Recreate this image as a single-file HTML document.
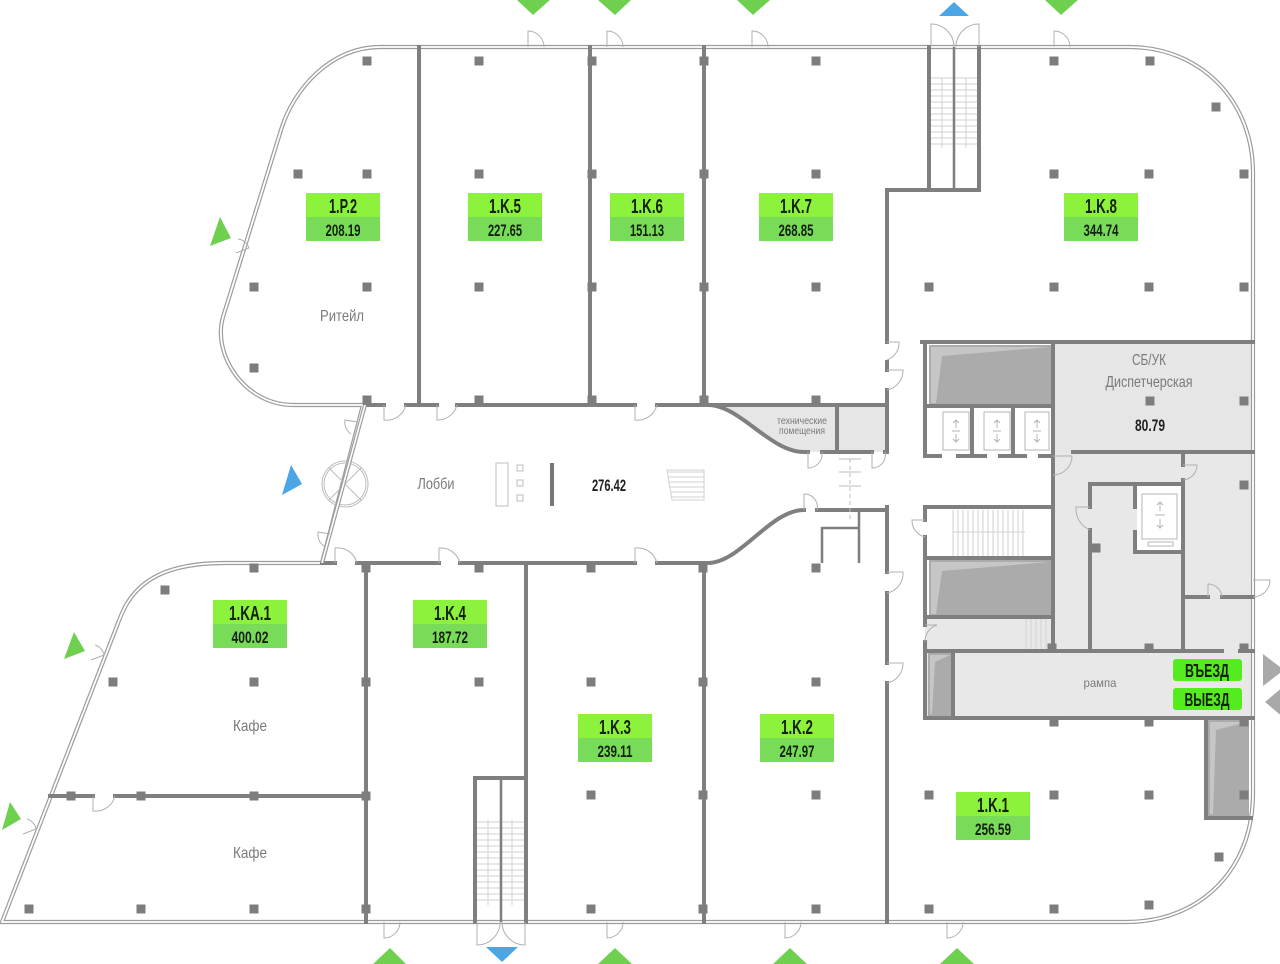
<!DOCTYPE html>
<html><head><meta charset="utf-8"><style>
html,body{margin:0;padding:0;background:#fff;}
svg{display:block;}
text{font-family:"Liberation Sans Narrow","Liberation Sans",sans-serif;}
</style></head><body>
<svg width="1280" height="964" viewBox="0 0 1280 964" xmlns="http://www.w3.org/2000/svg">
<rect width="1280" height="964" fill="#fff"/>

<!-- fills -->
<path d="M708 405 C740 405 770 452 804 452 H887 V405 Z" fill="#e6e6e6"/>
<rect x="1053" y="342" width="200" height="110" fill="#e6e6e6"/>
<rect x="1053" y="452" width="200" height="199" fill="#e8e8e8"/>
<rect x="1137" y="486" width="45" height="64" fill="#fff"/>
<rect x="925" y="617" width="128" height="34" fill="#e8e8e8"/>
<rect x="925" y="651" width="328" height="67" fill="#e8e8e8"/>
<!-- shafts -->
<g>
<rect x="929" y="345" width="122" height="60" fill="#ababab"/>
<polygon points="931,347 1049,347 942,356 936,403 931,403" fill="#c6c6c6"/>
<rect x="929" y="560" width="122" height="56" fill="#ababab"/>
<polygon points="931,562 1049,562 942,571 936,614 931,614" fill="#c6c6c6"/>
<rect x="928" y="653" width="24" height="63" fill="#ababab"/>
<polygon points="930,655 950,655 935,662 932,714 930,714" fill="#c6c6c6"/>
<rect x="1208" y="720" width="41" height="96" fill="#ababab"/>
<polygon points="1210,722 1247,722 1216,730 1213,814 1210,814" fill="#c6c6c6"/>
</g>

<!-- outer envelope -->
<path d="M363 405 L293 405 C245 405 212 355 223 317 L281 130 C293 90 330 47 380 47 L1129 47 C1200 47 1253 100 1253 173 L1253 793 C1253 870 1200 922 1126 922 L2 922 L120 618 C135 578 170 563 225 563 L322 563 Z" fill="none" stroke="#9c9c9c" stroke-width="4.2"/>
<path d="M363 405 L293 405 C245 405 212 355 223 317 L281 130 C293 90 330 47 380 47 L1129 47 C1200 47 1253 100 1253 173 L1253 793 C1253 870 1200 922 1126 922 L2 922 L120 618 C135 578 170 563 225 563 L322 563 Z" fill="none" stroke="#fff" stroke-width="1.8"/>

<!-- stair treads -->
<g stroke="#d2d2d2" stroke-width="1">
<path d="M931 78H977M931 84H977M931 90H977M931 96H977M931 102H977M931 108H977M931 114H977M931 120H977M931 126H977M931 132H977M931 138H977M931 144H977M942 78V148M966 78V148"/>
<path d="M953 510V556M958 510V556M963 510V556M968 510V556M973 510V556M978 510V556M983 510V556M988 510V556M993 510V556M998 510V556M1003 510V556M1008 510V556M1013 510V556M1018 510V556M1023 510V556M953 532H1025"/>
<path d="M1026 619V650M1031 619V650M1036 619V650M1041 619V650M1046 619V650"/>
<path d="M477 822H524M477 828H524M477 834H524M477 840H524M477 846H524M477 852H524M477 858H524M477 864H524M477 870H524M477 876H524M477 882H524M477 888H524M477 894H524M477 900H524M488 820V905M512 820V905"/>
<path d="M667 472H704M668 477H704M669 482H704M670 487H704M671 492H704M672 497H704M667 470L672 500H704V470Z" fill="none"/>
</g>

<!-- walls -->
<g stroke="#7f7f7f" stroke-width="4" fill="none" stroke-linecap="square">
<path d="M419 47V405M590 47V405M704 47V405"/>
<path d="M887 190V342M887 362V370M887 390V452"/>
<path d="M887 190H979M929 47V190M979 47V190"/>
<path d="M365 405H384M406 405H437M457 405H635M657 405H708 C740 405 770 452 804 452 H808M822 452H872M885 452H887M708 405H887M837 405V452"/>
<path d="M922 342H1253M925 342V456M1053 342V650M925 406H1053M972 406V456M1013 406V456"/>
<path d="M925 456H940M958 456H985M1000 456H1025M1040 456H1053"/>
<path d="M1073 452H1253M1183 452V465M1183 480V650M1090 484H1183M1090 484V507M1090 530V650M1135 484V507M1135 532V552H1183M1183 597H1208M1222 597H1253"/>
<path d="M925 507H1053M925 507V520M925 537V625M925 642V718"/>
<path d="M925 651H1222M1240 651H1253M925 718H1253M953 651V718M1206 718V818H1251"/>
<path d="M887 507V572M887 593V663M887 683V922"/>
<path d="M322 563H335M357 563H439M460 563H635M657 563H708 C740 563 770 510 804 510M817 510H887"/>
<path d="M366 563V922M526 563V922M704 563V922"/>
<path d="M50 796H93M115 796H366"/>
<path d="M475 778V922M475 778H526"/>
</g>
<g stroke="#7f7f7f" stroke-width="2.5" fill="none">
<path d="M954 47V190M501 778V922"/>
<path d="M822 527V563M822 528H858M859 510V563"/>
<path d="M925 558H1053M925 617H1053" stroke-width="4"/>
</g>

<!-- elevator interiors -->
<g stroke="#b5b5b5" stroke-width="1" fill="none">
<rect x="943" y="412" width="26" height="38"/>
<rect x="984" y="412" width="26" height="38"/>
<rect x="1025" y="412" width="24" height="38"/>
<rect x="1142" y="494" width="35" height="45"/>
<rect x="1148" y="542" width="25" height="4"/>
<path d="M956 420V428M953 423L956 420L959 423M952 431H960M956 434V442M953 439L956 442L959 439"/>
<path d="M997 420V428M994 423L997 420L1000 423M993 431H1001M997 434V442M994 439L997 442L1000 439"/>
<path d="M1037 420V428M1034 423L1037 420L1040 423M1033 431H1041M1037 434V442M1034 439L1037 442L1040 439"/>
<path d="M1160 502V511M1157 505L1160 502L1163 505M1155 515H1165M1160 519V528M1157 525L1160 528L1163 525"/>
</g>

<!-- lobby items -->
<g stroke="#bdbdbd" stroke-width="1" fill="none">
<rect x="496" y="463" width="12" height="43"/>
<rect x="517" y="465" width="6" height="6"/>
<rect x="517" y="480" width="6" height="6"/>
<rect x="517" y="495" width="6" height="6"/>
<circle cx="345" cy="484" r="23"/>
<circle cx="345" cy="484" r="21"/>
<path d="M329 468L361 500M361 468L329 500"/>
<path d="M850 459V520" stroke-dasharray="4 3"/>
<path d="M839 459H861M839 472H861M839 486H861"/>
</g>
<rect x="550" y="463" width="4" height="43" fill="#777"/>
<path d="M365 405L322 563" stroke="#9c9c9c" stroke-width="4" fill="none"/>
<path d="M365 405L322 563" stroke="#fff" stroke-width="1.6" fill="none"/>

<!-- doors -->
<g stroke="#b0b0b0" stroke-width="1" fill="none">
<path d="M528 47V31A16 16 0 0 1 544 47"/>
<path d="M607 47V31A16 16 0 0 1 623 47"/>
<path d="M752 47V31A16 16 0 0 1 768 47"/>
<path d="M1054 47V31A16 16 0 0 1 1070 47"/>
<path d="M931 47V24A23 23 0 0 1 954 47M979 47V24A23 23 0 0 0 956 47"/>
<path d="M384 922V938A16 16 0 0 0 400 922"/>
<path d="M607 922V938A16 16 0 0 0 623 922"/>
<path d="M785 922V938A16 16 0 0 0 801 922"/>
<path d="M947 922V938A16 16 0 0 0 963 922"/>
<path d="M477 922V945A23 23 0 0 0 500 922M525 922V945A23 23 0 0 1 502 922"/>
<path d="M384 405V420A20 20 0 0 0 406 405M437 405V420A20 20 0 0 0 457 405M635 405V420A20 20 0 0 0 657 405"/>
<path d="M335 563V548A20 20 0 0 1 357 563M439 563V548A20 20 0 0 1 460 563M635 563V548A20 20 0 0 1 657 563"/>
<path d="M93 796V811A20 20 0 0 0 115 796"/>
<path d="M808 452V468A14 14 0 0 0 822 452M872 452V468A13 13 0 0 0 885 452"/>
<path d="M804 510V494A13 13 0 0 1 817 510"/>
<path d="M887 342H899A18 18 0 0 1 887 360"/>
<path d="M887 370H903A20 20 0 0 1 887 390"/>
<path d="M887 572H903A20 20 0 0 1 887 593"/>
<path d="M887 663H903A20 20 0 0 1 887 683"/>
<path d="M925 520H912A17 17 0 0 0 925 537"/>
<path d="M925 625H937A17 17 0 0 0 925 642"/>
<path d="M1053 456H1072A19 19 0 0 1 1053 475"/>
<path d="M1090 507H1076A23 23 0 0 0 1090 530"/>
<path d="M1183 465H1197A15 15 0 0 1 1183 480"/>
<path d="M1208 597V584A14 14 0 0 1 1222 597"/>
<path d="M1253 580H1270A17 17 0 0 1 1253 597"/>
<path d="M236 253L249 248A13 13 0 0 0 238 239"/>
<path d="M91 660L104 655A13 13 0 0 0 95 645"/>
<path d="M23 834L36 829A13 13 0 0 0 27 819"/>
<path d="M357 422L345 420A14 14 0 0 0 351 434M330 534L318 532A14 14 0 0 0 324 546"/>
</g>

<!-- columns -->
<g fill="#7d7d7d">
<rect x="362.5" y="56.5" width="9" height="9"/><rect x="474.5" y="56.5" width="9" height="9"/><rect x="587.5" y="56.5" width="9" height="9"/><rect x="699.5" y="56.5" width="9" height="9"/><rect x="811.5" y="56.5" width="9" height="9"/><rect x="1049.5" y="56.5" width="9" height="9"/><rect x="1145.5" y="56.5" width="9" height="9"/>
<rect x="1211.5" y="102.5" width="9" height="9"/>
<rect x="293.5" y="169.5" width="9" height="9"/><rect x="362.5" y="169.5" width="9" height="9"/><rect x="474.5" y="169.5" width="9" height="9"/><rect x="587.5" y="169.5" width="9" height="9"/><rect x="699.5" y="169.5" width="9" height="9"/><rect x="811.5" y="169.5" width="9" height="9"/><rect x="1049.5" y="169.5" width="9" height="9"/><rect x="1144.5" y="169.5" width="9" height="9"/><rect x="1239.5" y="169.5" width="9" height="9"/>
<rect x="249.5" y="282.5" width="9" height="9"/><rect x="362.5" y="282.5" width="9" height="9"/><rect x="474.5" y="282.5" width="9" height="9"/><rect x="587.5" y="282.5" width="9" height="9"/><rect x="699.5" y="282.5" width="9" height="9"/><rect x="811.5" y="282.5" width="9" height="9"/><rect x="924.5" y="282.5" width="9" height="9"/><rect x="1049.5" y="282.5" width="9" height="9"/><rect x="1144.5" y="282.5" width="9" height="9"/><rect x="1239.5" y="282.5" width="9" height="9"/>
<rect x="249.5" y="363.5" width="9" height="9"/>
<rect x="362.5" y="395.5" width="9" height="9"/><rect x="474.5" y="395.5" width="9" height="9"/><rect x="587.5" y="395.5" width="9" height="9"/><rect x="699.5" y="395.5" width="9" height="9"/><rect x="811.5" y="395.5" width="9" height="9"/><rect x="1145.5" y="396.5" width="9" height="9"/><rect x="1239.5" y="396.5" width="9" height="9"/>
<rect x="1239.5" y="480.5" width="9" height="9"/>
<rect x="1091.5" y="543.5" width="9" height="9"/>
<rect x="249.5" y="563.5" width="9" height="9"/><rect x="361.5" y="563.5" width="9" height="9"/><rect x="474.5" y="563.5" width="9" height="9"/><rect x="586.5" y="563.5" width="9" height="9"/><rect x="698.5" y="563.5" width="9" height="9"/><rect x="811.5" y="563.5" width="9" height="9"/>
<rect x="160.5" y="585.5" width="9" height="9"/>
<rect x="1047.5" y="643.5" width="9" height="9"/><rect x="1144.5" y="643.5" width="9" height="9"/><rect x="1239.5" y="643.5" width="9" height="9"/>
<rect x="108.5" y="677.5" width="9" height="9"/><rect x="249.5" y="677.5" width="9" height="9"/><rect x="361.5" y="677.5" width="9" height="9"/><rect x="474.5" y="677.5" width="9" height="9"/><rect x="586.5" y="677.5" width="9" height="9"/><rect x="698.5" y="677.5" width="9" height="9"/><rect x="811.5" y="677.5" width="9" height="9"/>
<rect x="1049.5" y="717.5" width="9" height="9"/><rect x="1144.5" y="717.5" width="9" height="9"/><rect x="1239.5" y="717.5" width="9" height="9"/>
<rect x="66.5" y="791.5" width="9" height="9"/><rect x="136.5" y="791.5" width="9" height="9"/><rect x="249.5" y="791.5" width="9" height="9"/><rect x="361.5" y="791.5" width="9" height="9"/><rect x="586.5" y="790.5" width="9" height="9"/><rect x="698.5" y="790.5" width="9" height="9"/><rect x="811.5" y="790.5" width="9" height="9"/><rect x="924.5" y="790.5" width="9" height="9"/><rect x="1049.5" y="790.5" width="9" height="9"/><rect x="1144.5" y="790.5" width="9" height="9"/><rect x="1239.5" y="790.5" width="9" height="9"/>
<rect x="1214.5" y="852.5" width="9" height="9"/>
<rect x="24.5" y="904.5" width="9" height="9"/><rect x="136.5" y="904.5" width="9" height="9"/><rect x="249.5" y="904.5" width="9" height="9"/><rect x="361.5" y="904.5" width="9" height="9"/><rect x="586.5" y="904.5" width="9" height="9"/><rect x="698.5" y="904.5" width="9" height="9"/><rect x="811.5" y="904.5" width="9" height="9"/><rect x="924.5" y="904.5" width="9" height="9"/><rect x="1049.5" y="904.5" width="9" height="9"/><rect x="1144.5" y="900.5" width="9" height="9"/>
</g>

<!-- entrance markers -->
<g fill="#6fd04f">
<polygon points="517,0 550,0 533,15"/>
<polygon points="598,0 631,0 615,15"/>
<polygon points="737,0 770,0 753,15"/>
<polygon points="1045,0 1078,0 1061,15"/>
<polygon points="220,217 231,238 210,246"/>
<polygon points="74,632 85,651 64,659"/>
<polygon points="10,802 21,819 2,830"/>
<polygon points="373,964 406,964 390,948"/>
<polygon points="598,964 632,964 615,948"/>
<polygon points="773,964 807,964 790,948"/>
<polygon points="940,964 974,964 957,948"/>
</g>
<g fill="#4aa6e6">
<polygon points="939,16 969,16 954,2"/>
<polygon points="291,465 302,484 282,495"/>
<polygon points="486,947 518,947 502,962"/>
</g>
<g fill="#a9a9a9">
<polygon points="1263,654 1284,670 1263,686"/>
<polygon points="1265,702 1284,686 1284,718"/>
</g>

<!-- unit labels -->
<g>
<rect x="306" y="193" width="74" height="24" fill="#8df23c"/><rect x="306" y="217" width="74" height="24" fill="#78dc58"/>
<rect x="468" y="193" width="74" height="24" fill="#8df23c"/><rect x="468" y="217" width="74" height="24" fill="#78dc58"/>
<rect x="610" y="193" width="74" height="24" fill="#8df23c"/><rect x="610" y="217" width="74" height="24" fill="#78dc58"/>
<rect x="759" y="193" width="74" height="24" fill="#8df23c"/><rect x="759" y="217" width="74" height="24" fill="#78dc58"/>
<rect x="1064" y="193" width="74" height="24" fill="#8df23c"/><rect x="1064" y="217" width="74" height="24" fill="#78dc58"/>
<rect x="213" y="600" width="74" height="24" fill="#8df23c"/><rect x="213" y="624" width="74" height="24" fill="#78dc58"/>
<rect x="413" y="600" width="74" height="24" fill="#8df23c"/><rect x="413" y="624" width="74" height="24" fill="#78dc58"/>
<rect x="578" y="714" width="74" height="24" fill="#8df23c"/><rect x="578" y="738" width="74" height="24" fill="#78dc58"/>
<rect x="760" y="714" width="74" height="24" fill="#8df23c"/><rect x="760" y="738" width="74" height="24" fill="#78dc58"/>
<rect x="956" y="792" width="74" height="24" fill="#8df23c"/><rect x="956" y="816" width="74" height="24" fill="#78dc58"/>
</g>
<g fill="#14200e" text-anchor="middle" font-weight="bold">
<text x="343" y="213" font-size="20" textLength="28" lengthAdjust="spacingAndGlyphs">1.P.2</text>
<text x="343" y="236" font-size="17" textLength="35" lengthAdjust="spacingAndGlyphs">208.19</text>
<text x="505" y="213" font-size="20" textLength="32" lengthAdjust="spacingAndGlyphs">1.K.5</text>
<text x="505" y="236" font-size="17" textLength="34" lengthAdjust="spacingAndGlyphs">227.65</text>
<text x="647" y="213" font-size="20" textLength="32" lengthAdjust="spacingAndGlyphs">1.K.6</text>
<text x="647" y="236" font-size="17" textLength="34" lengthAdjust="spacingAndGlyphs">151.13</text>
<text x="796" y="213" font-size="20" textLength="32" lengthAdjust="spacingAndGlyphs">1.K.7</text>
<text x="796" y="236" font-size="17" textLength="35" lengthAdjust="spacingAndGlyphs">268.85</text>
<text x="1101" y="213" font-size="20" textLength="32" lengthAdjust="spacingAndGlyphs">1.K.8</text>
<text x="1101" y="236" font-size="17" textLength="35" lengthAdjust="spacingAndGlyphs">344.74</text>
<text x="250" y="620" font-size="20" textLength="42" lengthAdjust="spacingAndGlyphs">1.KA.1</text>
<text x="250" y="643" font-size="17" textLength="37" lengthAdjust="spacingAndGlyphs">400.02</text>
<text x="450" y="620" font-size="20" textLength="32" lengthAdjust="spacingAndGlyphs">1.K.4</text>
<text x="450" y="643" font-size="17" textLength="36" lengthAdjust="spacingAndGlyphs">187.72</text>
<text x="615" y="734" font-size="20" textLength="32" lengthAdjust="spacingAndGlyphs">1.K.3</text>
<text x="615" y="757" font-size="17" textLength="35" lengthAdjust="spacingAndGlyphs">239.11</text>
<text x="797" y="734" font-size="20" textLength="32" lengthAdjust="spacingAndGlyphs">1.K.2</text>
<text x="797" y="757" font-size="17" textLength="35" lengthAdjust="spacingAndGlyphs">247.97</text>
<text x="993" y="812" font-size="20" textLength="32" lengthAdjust="spacingAndGlyphs">1.K.1</text>
<text x="993" y="835" font-size="17" textLength="36" lengthAdjust="spacingAndGlyphs">256.59</text>
</g>

<!-- ramp buttons -->
<rect x="1173" y="659" width="69" height="22" rx="3" fill="#55ec1f"/>
<rect x="1173" y="688" width="69" height="22" rx="3" fill="#55ec1f"/>
<g fill="#14200e" text-anchor="middle" font-weight="bold">
<text x="1207" y="677" font-size="18" textLength="44" lengthAdjust="spacingAndGlyphs">ВЪЕЗД</text>
<text x="1207" y="706" font-size="18" textLength="45" lengthAdjust="spacingAndGlyphs">ВЫЕЗД</text>
</g>

<!-- room names -->
<g fill="#7a7a7a" text-anchor="middle">
<text x="342" y="321" font-size="16" textLength="44" lengthAdjust="spacingAndGlyphs">Ритейл</text>
<text x="436" y="489" font-size="16" textLength="37" lengthAdjust="spacingAndGlyphs">Лобби</text>
<text x="250" y="731" font-size="16" textLength="34" lengthAdjust="spacingAndGlyphs">Кафе</text>
<text x="250" y="858" font-size="16" textLength="34" lengthAdjust="spacingAndGlyphs">Кафе</text>
<text x="1149" y="365" font-size="16" textLength="34" lengthAdjust="spacingAndGlyphs">СБ/УК</text>
<text x="1149" y="387" font-size="16" textLength="87" lengthAdjust="spacingAndGlyphs">Диспетчерская</text>
<text x="802" y="424" font-size="10" textLength="50" lengthAdjust="spacingAndGlyphs">технические</text>
<text x="802" y="434" font-size="10" textLength="46" lengthAdjust="spacingAndGlyphs">помещения</text>
<text x="1100" y="687" font-size="12" textLength="33" lengthAdjust="spacingAndGlyphs">рампа</text>
</g>
<g fill="#1f1f1f" text-anchor="middle" font-weight="bold">
<text x="609" y="491" font-size="17" textLength="34" lengthAdjust="spacingAndGlyphs">276.42</text>
<text x="1150" y="431" font-size="17" textLength="30" lengthAdjust="spacingAndGlyphs">80.79</text>
</g>
</svg>
</body></html>
